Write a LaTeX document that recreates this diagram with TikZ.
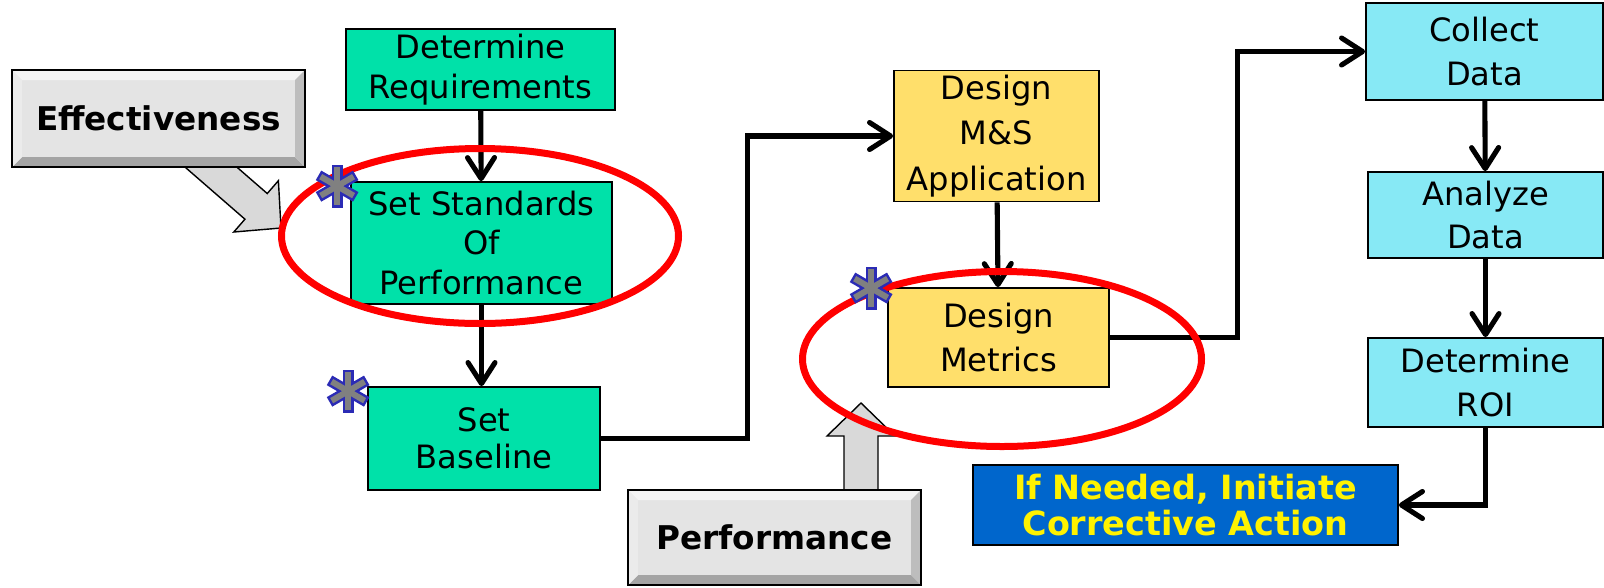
\documentclass[tikz,border=0pt]{standalone}
\usepackage{fontspec}
\setmainfont{DejaVu Sans}
\usetikzlibrary{positioning, calc, arrows.meta}
\definecolor{xgreen}{HTML}{00E1A9}
\definecolor{xyellow}{HTML}{FFDF6B}
\definecolor{xcyan}{HTML}{87E9F5}
\definecolor{xblue}{HTML}{0066CC}
\definecolor{xstar}{HTML}{2B2BB5}
\definecolor{bevelface}{HTML}{E4E4E4}
\definecolor{beveltop}{HTML}{F4F4F4}
\definecolor{bevelleft}{HTML}{EBEBEB}
\definecolor{bevelright}{HTML}{BDBDBD}
\definecolor{bevelbottom}{HTML}{A4A4A4}
\definecolor{arrowgray}{HTML}{D9D9D9}
\newcommand{\bevelw}{0.2cm}
\tikzset{
	arrow/.style={line width=2.9pt, -{Straight Barb[length=0.42cm, width=0.54cm, round]}},
	box/.style={draw=black, line width=1pt, align=center, inner sep=0pt,
		font=\fontsize{18.3}{22.5}\selectfont},
	green box/.style={box, fill=xgreen},
	yellow box/.style={box, fill=xyellow},
	cyan box/.style={box, fill=xcyan},
	action box/.style={box, fill=xblue, text=yellow,
		font=\fontsize{19}{21}\selectfont\bfseries},
	bevel/.style={draw=black, line width=1.6pt, fill=bevelface, align=center,
		minimum width=5.86cm, font=\fontsize{18.6}{22}\selectfont\bfseries,
		path picture={
			\coordinate (bnw) at (path picture bounding box.north west);
			\coordinate (bse) at (path picture bounding box.south east);
			\fill[beveltop] (bnw) -- (bnw -| bse) -- ++(-\bevelw,-\bevelw) -- ($(bnw)+(\bevelw,-\bevelw)$) -- cycle;
			\fill[bevelbottom] (bse) -- (bnw |- bse) -- ++(\bevelw,\bevelw) -- ($(bse)+(-\bevelw,\bevelw)$) -- cycle;
			\fill[bevelright] (bse) -- (bse |- bnw) -- ++(-\bevelw,-\bevelw) -- ($(bse)+(-\bevelw,\bevelw)$) -- cycle;
			\fill[bevelleft] (bnw) -- (bnw |- bse) -- ++(\bevelw,\bevelw) -- ($(bnw)+(\bevelw,-\bevelw)$) -- cycle;
		}},
	ring/.style={draw=red, line width=0.14cm},
	fatarrow/.pic={
		\draw[fill=arrowgray, line width=0.8pt] (0,0) -- (-0.66,0.68) -- (-0.66,0.34) -- (-2.6,0.34)
			-- (-2.6,-0.34) -- (-0.66,-0.34) -- (-0.66,-0.68) -- cycle;
	},
	starmark/.pic={
		\foreach \a in {90,30,150}
			\draw[xstar, line width=0.22cm, line cap=rect] (\a:0.32) -- (\a+180:0.32);
		\foreach \a in {90,30,150}
			\draw[gray, line width=0.12cm, line cap=rect] (\a:0.32) -- (\a+180:0.32);
	},
}

\begin{document}
\begin{tikzpicture}
	\useasboundingbox (0,0) rectangle (32.08,-11.74);

	% grey block arrows, tails hidden under the label boxes
	\pic[rotate=-41] at (5.62,-4.56) {fatarrow};
	\pic[rotate=90] at (17.22,-8.06) {fatarrow};

	\node[bevel, minimum height=1.94cm] (eff) at (3.17,-2.37) {Effectiveness};
	\node[bevel, minimum height=1.90cm] (perf) at (15.49,-10.75) {Performance};

	% first column
	\node[green box, minimum width=5.38cm, minimum height=1.62cm] (req) at (9.61,-1.39) {Determine\\Requirements};
	\node[green box, minimum width=5.22cm, minimum height=2.44cm] (std) at (9.63,-4.86) {Set Standards\\Of\\Performance};
	\node[green box, minimum width=4.64cm, minimum height=2.06cm] (base) at (9.68,-8.77) {Set\\[-1.5pt]Baseline};

	% second column
	\node[yellow box, minimum width=4.10cm, minimum height=2.62cm] (app) at (19.93,-2.72) {Design\\[3.5pt]M\&S\\[3.5pt]Application};
	\node[yellow box, minimum width=4.42cm, minimum height=1.98cm] (met) at (19.97,-6.75) {Design\\[2.5pt]Metrics};

	% third column
	\node[cyan box, minimum width=4.74cm, minimum height=1.94cm] (col) at (29.69,-1.03) {Collect\\[2.5pt]Data};
	\node[cyan box, minimum width=4.70cm, minimum height=1.72cm] (ana) at (29.71,-4.30) {Analyze\\[2.5pt]Data};
	\node[cyan box, minimum width=4.70cm, minimum height=1.78cm] (roi) at (29.71,-7.65) {Determine\\[2.5pt]ROI};
	\node[action box, minimum width=8.50cm, minimum height=1.60cm] (act) at (23.71,-10.10) {If Needed, Initiate\\Corrective Action};

	\draw[arrow] (req) -- (std);
	\draw[arrow] (std.south) -- (std.south |- base.north);
	\draw[arrow] (base.east) -| ([xshift=-2.92cm]app.west) -- (app.west);
	\draw[arrow] (app) -- (met);
	\draw[arrow] (met.east) -| ([xshift=-2.56cm]col.west) -- (col.west);
	\draw[arrow] (col) -- (ana);
	\draw[arrow] (ana) -- (roi);
	\draw[arrow] (roi.south) |- (act.east);

	% red rings round the key steps
	\draw[ring] (9.60,-4.72) ellipse (3.97cm and 1.75cm);
	\draw[ring] (20.04,-7.18) ellipse (3.99cm and 1.75cm);

	\pic at ([shift={(-0.26,-0.10)}]std.north west) {starmark};
	\pic at ([shift={(-0.38,-0.10)}]base.north west) {starmark};
	\pic at ([shift={(-0.32,-0.02)}]met.north west) {starmark};
\end{tikzpicture}
\end{document}
